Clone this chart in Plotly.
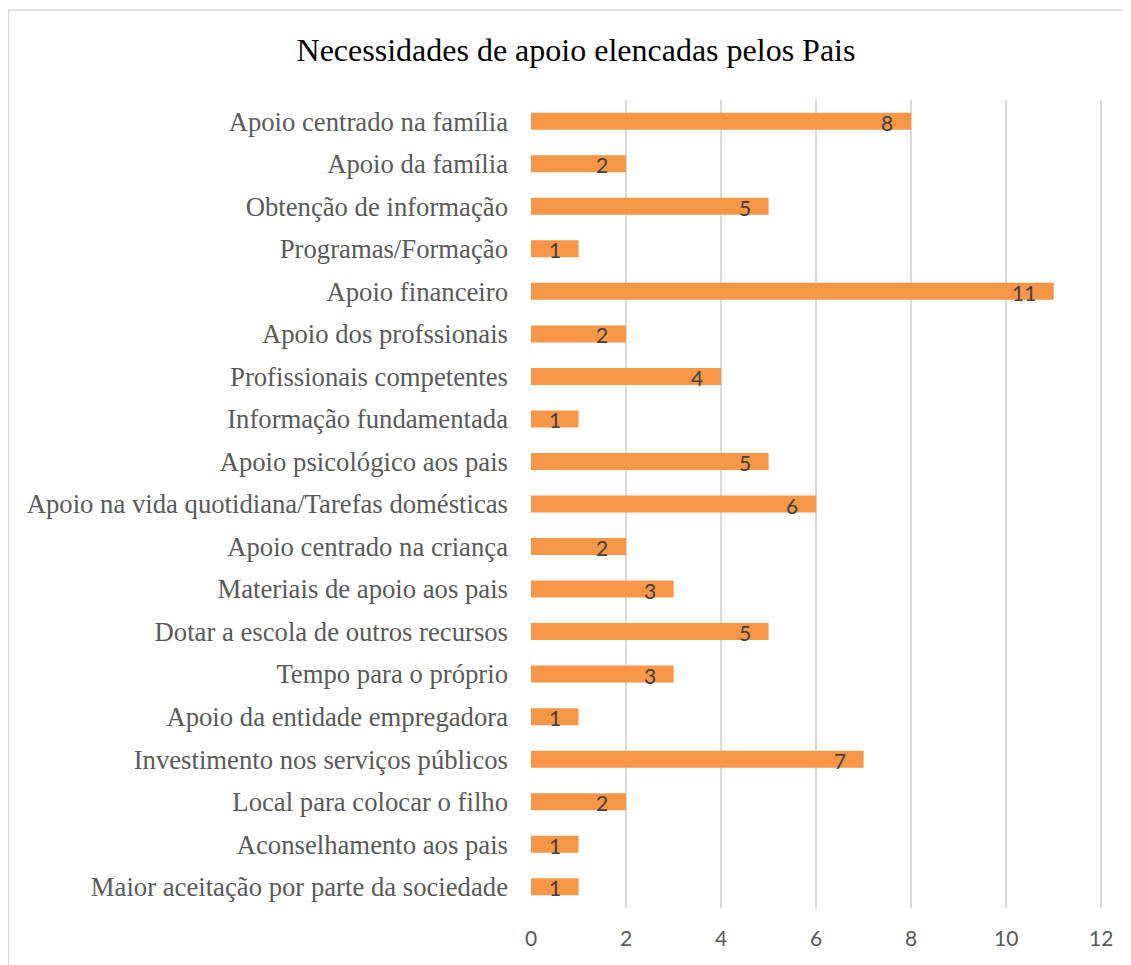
import plotly.graph_objects as go

categories = [
    "Apoio centrado na família",
    "Apoio da família",
    "Obtenção de informação",
    "Programas/Formação",
    "Apoio financeiro",
    "Apoio dos profssionais",
    "Profissionais competentes",
    "Informação fundamentada",
    "Apoio psicológico aos pais",
    "Apoio na vida quotidiana/Tarefas domésticas",
    "Apoio centrado na criança",
    "Materiais de apoio aos pais",
    "Dotar a escola de outros recursos",
    "Tempo para o próprio",
    "Apoio da entidade empregadora",
    "Investimento nos serviços públicos",
    "Local para colocar o filho",
    "Aconselhamento aos pais",
    "Maior aceitação por parte da sociedade",
]
values = [8, 2, 5, 1, 11, 2, 4, 1, 5, 6, 2, 3, 5, 3, 1, 7, 2, 1, 1]
x_ticks = [0, 2, 4, 6, 8, 10, 12]

# page body has an 8px margin -> figure occupies (8,8)-(1131,965)
W, H = 1123, 957
X_MAX = 12.1
L, T, B = 523, 92, 57
plot_w = 570 * X_MAX / 12
R = W - L - plot_w
plot_h = H - T - B

fig = go.Figure()
fig.add_trace(go.Bar(
    x=values, y=categories, orientation="h",
    marker=dict(color="#F79646", line=dict(width=0)),
    width=0.4,
    hoverinfo="x+y",
))

for c, v in zip(categories, values):
    fig.add_annotation(
        x=v, y=c, xref="x", yref="y", text=str(v), showarrow=False,
        xanchor="right", yanchor="middle", xshift=-16, yshift=-1,
        font=dict(family="Lato", size=21, color="#404040"),
    )

fig.add_shape(
    type="rect", xref="paper", yref="paper",
    x0=(0.75 - L) / plot_w, x1=(W + 5 - L) / plot_w,
    y0=(plot_h + T - (H + 10)) / plot_h, y1=(plot_h + T - 2) / plot_h,
    line=dict(color="#D9D9D9", width=1.5), layer="below",
)

fig.update_layout(
    width=W, height=H,
    margin=dict(l=L, r=R, t=T, b=B),
    paper_bgcolor="white", plot_bgcolor="white",
    title=dict(
        text="Necessidades de apoio elencadas pelos Pais",
        x=(576 - 8) / W, xanchor="center",
        y=1 - 42 / H, yanchor="middle",
        font=dict(family="Liberation Serif", size=32, color="#000000"),
    ),
    showlegend=False,
    bargap=0.6,
)
fig.update_xaxes(
    range=[0, X_MAX], tickvals=x_ticks, ticktext=[str(t) for t in x_ticks],
    showgrid=True, gridcolor="#D9D9D9", gridwidth=1.5,
    zeroline=False, showline=False, ticks="",
    tickfont=dict(family="Lato", size=21, color="#595959"),
    ticklabelstandoff=16,
)
fig.update_yaxes(
    categoryorder="array", categoryarray=categories, autorange="reversed",
    showgrid=False, zeroline=False, showline=False, ticks="",
    tickfont=dict(family="Liberation Serif", size=26.7, color="#595959"),
    ticklabelstandoff=22,
)

fig.write_html("out.html")
